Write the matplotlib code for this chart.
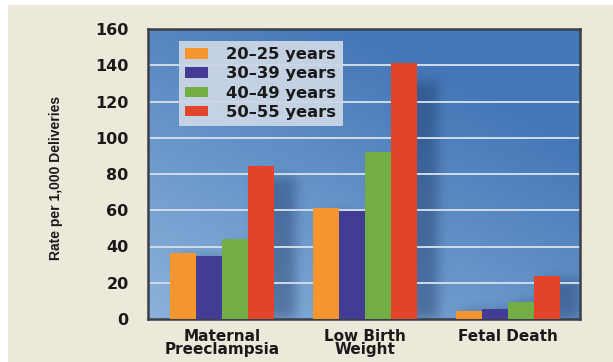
import numpy as np
import matplotlib
matplotlib.use("Agg")
import matplotlib.pyplot as plt
from matplotlib.patches import Rectangle

# data
outcomes = ["Maternal\nPreeclampsia", "Low Birth\nWeight", "Fetal Death"]
age_groups = ["20–25 years", "30–39 years", "40–49 years", "50–55 years"]
rate_20_25 = [36.5, 61.5, 4.5]
rate_30_39 = [34.5, 59.5, 5.5]
rate_40_49 = [44, 92, 9.5]
rate_50_55 = [84.5, 141, 23.5]
rates = [rate_20_25, rate_30_39, rate_40_49, rate_50_55]
colors = ["#F7952E", "#433C94", "#72AE45", "#E2442A"]

W, H = 613, 362
fig = plt.figure(figsize=(W / 100, H / 100), dpi=100, facecolor="white")
# cream card behind everything
fig.patches.append(Rectangle((8 / W, 0), 1, 1 - 5 / H, transform=fig.transFigure,
                             facecolor="#ECE8DA", edgecolor="none", zorder=-10))

ax = fig.add_axes([148 / W, (H - 319) / H, 432 / W, 290 / H])
x = np.arange(len(outcomes))
bw = 0.182
xmin, xmax = -0.517, 2.503
ymin, ymax = 0, 160
ax.set_xlim(xmin, xmax)
ax.set_ylim(ymin, ymax)

# blue gradient background, lighter at bottom left
nx, ny = 300, 200
gx, gy = np.meshgrid(np.linspace(0, 1, nx), np.linspace(0, 1, ny))
t = np.clip(0.55 * gx + 0.75 * gy, 0, 1)
light = np.array([0.55, 0.70, 0.86])
dark = np.array([0.27, 0.47, 0.72])
bg = light[None, None, :] * (1 - t[..., None]) + dark[None, None, :] * t[..., None]
ax.imshow(bg, extent=[xmin, xmax, ymin, ymax], origin="lower", aspect="auto", zorder=0)

# soft shadows cast to the right of each bar group
xs = np.linspace(xmin, xmax, nx * 2)
ys = np.linspace(ymin, ymax, ny * 2)
XX, YY = np.meshgrid(xs, ys)
mask = np.zeros_like(XX)
for i in range(len(outcomes)):
    for j in range(4):
        left = x[i] + (j - 2) * bw + 0.06
        h = rates[j][i] * 0.93
        mask[(XX >= left) & (XX <= left + bw + 0.09) & (YY <= h)] = 1
k = np.exp(-0.5 * (np.arange(-25, 26) / 8.0) ** 2)
k /= k.sum()
mask = np.apply_along_axis(lambda r: np.convolve(r, k, mode="same"), 1, mask)
mask = np.apply_along_axis(lambda c: np.convolve(c, k, mode="same"), 0, mask)
shadow = np.zeros(mask.shape + (4,))
shadow[..., :3] = [0.10, 0.20, 0.38]
shadow[..., 3] = mask * 0.42
ax.imshow(shadow, extent=[xmin, xmax, ymin, ymax], origin="lower", aspect="auto", zorder=1)

# gridlines
for yv in range(20, 160, 20):
    ax.axhline(yv, color="#CFDCEA", lw=1.4, zorder=2)

for j in range(4):
    ax.bar(x + (j - 1.5) * bw, rates[j], width=bw, color=colors[j],
           label=age_groups[j], zorder=3, linewidth=0)

for s in ax.spines.values():
    s.set_color("#3A3F48")
    s.set_linewidth(1.8)

ax.set_yticks(range(0, 161, 20))
ax.set_xticks(x)
ax.set_xticklabels(outcomes, fontsize=11, fontweight="bold", linespacing=0.85, color="#1A1A1A")
ax.tick_params(axis="both", length=0)
ax.tick_params(axis="y", pad=14, labelsize=11.5, labelcolor="#1A1A1A")
ax.tick_params(axis="x", pad=7)
for lab in ax.get_yticklabels():
    lab.set_fontweight("bold")

fig.text(56 / W, 1 - 178 / H, "Rate per 1,000 Deliveries", rotation=90, ha="center", va="center",
         fontsize=10, family="Liberation Sans", fontweight="bold", color="#1A1A1A")

leg = ax.legend(loc="upper left", bbox_to_anchor=(0.072, 0.959), borderaxespad=0,
                frameon=True, fancybox=False, handlelength=1.4, handleheight=0.62,
                handletextpad=1.1, labelspacing=0.26, borderpad=0.38,
                prop={"weight": "bold", "size": 11.8})
leg.get_frame().set_facecolor("#CAD6E6")
leg.get_frame().set_edgecolor("none")
leg.get_frame().set_alpha(0.95)
for t_ in leg.get_texts():
    t_.set_color("#1A1A1A")

fig.savefig("out.png", dpi=100, facecolor="white")
